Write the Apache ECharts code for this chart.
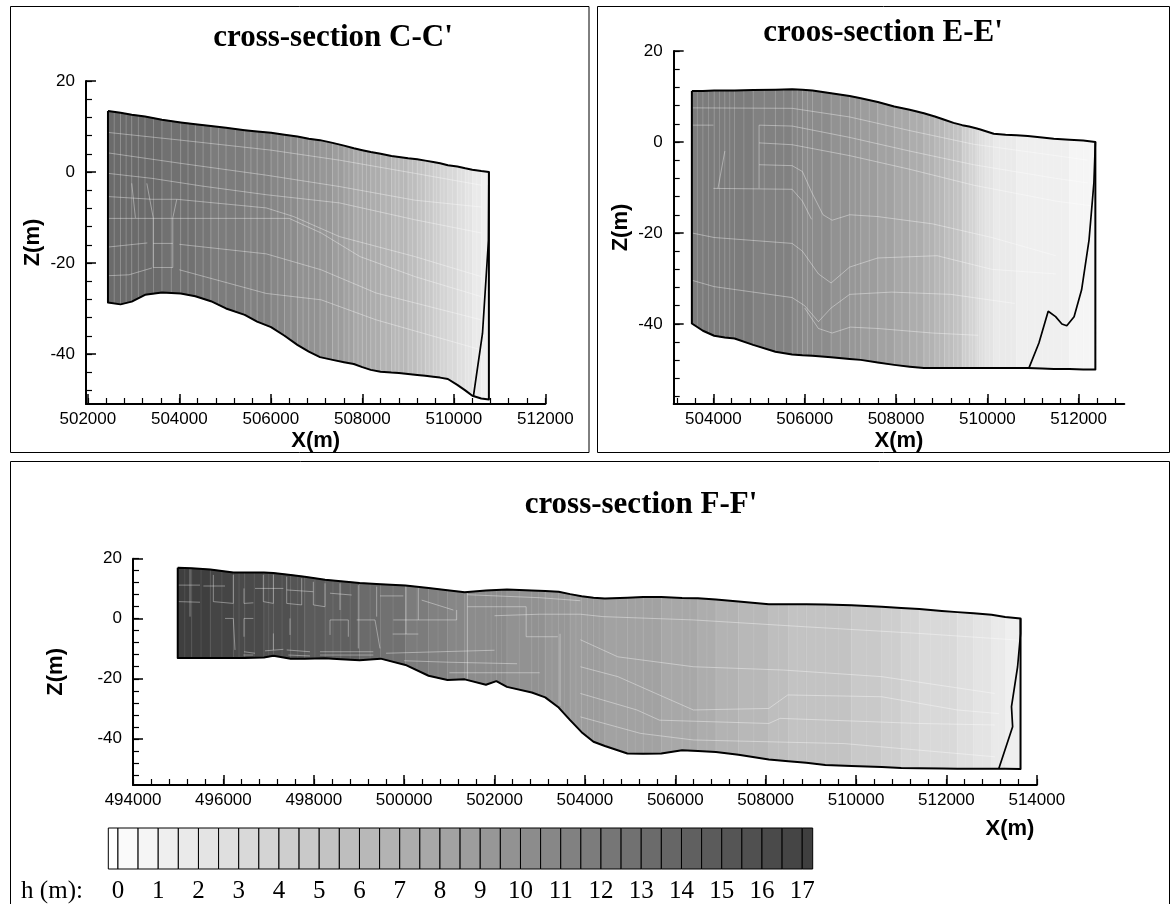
<!DOCTYPE html>
<html><head><meta charset="utf-8">
<script src="https://cdn.jsdelivr.net/npm/echarts@6/dist/echarts.min.js"></script>
<style>html,body{margin:0;padding:0;background:#fff}#c{width:1171px;height:904px}</style></head>
<body><div id="c"></div>
<script>
// Stations: X(m)
const xC=[502440,502715,502960,503250,503620,504030,504350,504690,505020,505430,505700,506005,506300,506580,506830,507075,507350,507600,507814,508000,508185,508400,508637,508800,509000,509200,509377,509550,509700,509870,510076,510250,510405,510600,510767];
const topC=[13.4,13,12.6,12.2,11.5,10.9,10.5,10.1,9.7,9.2,8.9,8.6,8.2,7.8,7.3,7,6.4,5.8,5.2,4.8,4.4,4,3.5,3.3,3,2.8,2.5,2.2,1.9,1.5,1.2,.8,.5,.2,0];
const botC=[-28.7,-29.1,-28.5,-27,-26.5,-26.7,-27.3,-28.4,-30,-31.4,-32.9,-34.1,-36,-38,-39.5,-40.7,-41.3,-41.8,-42.2,-42.9,-43.5,-43.9,-44.1,-44.2,-44.4,-44.6,-44.8,-45,-45.2,-45.5,-46.8,-48,-49.2,-49.8,-50];
const headC=[13,13,13,13,12.5,12.5,12,11.5,11.5,11,11,10.5,10,9.5,9.5,9,8.5,8,7.5,7.5,7,6.5,6,6,5.5,5,4.5,4,3.5,3,2.5,2,1.5,1,.5];
const wedgeC=[[510430,-49.2],[510627,-35.5],[510758,-15],[510767,0]];
const meshC=[
 [[502440,8.7],[504030,7],[506005,4.8],[507500,2.6],[509150,-.3],[510600,-2.9]],
 [[502440,4.2],[504030,1.9],[505900,-.7],[507500,-3.2],[509150,-6.2],[510600,-7.7]],
 [[502440,-.3],[503400,-1.4],[504500,-3.1],[505900,-5],[507500,-6.8],[509150,-10.5],[510600,-13.4]],
 [[502440,-5.4],[503400,-6],[503945,-6],[505900,-7.9],[506500,-9.8],[507500,-14.2],[509150,-18.6],[510600,-23]],
 [[502440,-10.2],[506400,-10.2],[507100,-13.4],[507950,-18.6],[509150,-23],[510600,-27.4]],
 [[502440,-16.5],[503300,-15.6]],
 [[504000,-15.9],[505900,-18],[507100,-21.5],[508300,-26.6],[510600,-32.5]],
 [[502440,-22.8],[502900,-22.6],[503400,-21.1]],
 [[504000,-21.5],[505900,-26.7],[507100,-28.1],[508300,-32.5],[510600,-39.1]],
 [[503430,-10.1],[503430,-15.7],[503857,-15.7],[503857,-10.1]],
 [[503430,-15.7],[503430,-21],[503857,-21],[503857,-15.7]],
 [[503290,-2.5],[503430,-10.1]],[[502960,-2.5],[503040,-10.1]],[[503945,-6],[503857,-10.1]]
];
const xE=[503528,503770,504016,504250,504463,504870,505358,505724,505950,506170,506577,506984,507228,507600,507960,508300,508610,508850,509060,509260,509450,509600,509750,509830,509950,510140,510400,510640,510886,511200,511455,511800,512100,512366];
const topE=[11.2,11.2,11.3,11.3,11.3,11.4,11.5,11.6,11.5,11.3,10.7,10.1,9.6,8.8,7.8,7.1,6.3,5.6,4.9,4.2,3.7,3.4,3,2.8,2.4,1.8,1.6,1.5,1.3,1,.7,.5,.3,0];
const botE=[-39.9,-41.5,-42.6,-43,-43.2,-44.6,-46.1,-46.7,-46.9,-47,-47.3,-47.7,-47.9,-48.5,-49,-49.4,-49.7,-49.7,-49.7,-49.7,-49.7,-49.7,-49.7,-49.7,-49.7,-49.7,-49.7,-49.7,-49.7,-49.8,-49.9,-49.9,-50,-50];
const headE=[11.5,11.5,11.5,11.5,11.5,11,11,10.5,10,10,9.5,9,8.5,8,7.5,7,6.5,6,5.5,5,4,3.5,3,2.5,2,1.5,1.5,1,1,1,1,.5,.5,.5];
const wedgeE=[[510910,-49.7],[511130,-44.2],[511333,-37.2],[511495,-38.4],[511633,-40],[511740,-40.4],[511900,-38.4],[512065,-32.5],[512228,-21.5],[512334,-9],[512366,0]];
const meshE=[
 [[503528,7.5],[505724,7.4],[506984,5.5],[508300,2.5],[509700,-.5],[511500,-3],[512200,-4]],
 [[503528,3.7],[504000,3.7]],
 [[505000,3.7],[505724,3.5],[506984,1],[508300,-2],[509700,-5],[511500,-8],[512200,-9]],
 [[505000,-.2],[505724,-.6],[506984,-3],[508300,-6],[509700,-9.5],[511500,-13],[512250,-14]],
 [[505000,-5],[505724,-5.2],[505950,-6.5],[506150,-11],[506400,-16],[506600,-17.2],[506984,-16],[507600,-16.4],[508800,-18],[510100,-21],[511500,-25]],
 [[504000,-10.2],[505724,-10.4],[505950,-13],[506150,-17]],
 [[503528,-20],[504016,-21],[505724,-22.3],[505950,-24],[506300,-29],[506577,-31],[506984,-27.5],[507600,-25.5],[508900,-25],[510100,-28],[511500,-29]],
 [[503528,-30.4],[504016,-31.8],[505724,-34.2],[506000,-36],[506300,-39.5],[506577,-36.5],[506984,-33.5],[507900,-33],[509200,-33.5],[510600,-35.5]],
 [[506000,-36.5],[506300,-41],[506600,-42],[507000,-40.7],[507600,-41],[508800,-42],[509800,-42.5]],
 [[505000,3.7],[505000,-10.2]],[[504100,-10.2],[504250,-2]]
];
const xF=[494990,495300,495711,496220,496473,496897,497108,497490,497800,498250,498600,499014,499480,500030,500540,500960,501340,501810,502040,502275,502825,503122,503420,503673,503927,504190,504442,504940,505290,505690,506150,506500,506900,507400,508070,508500,508900,509320,509900,510570,511000,511400,511900,512240,512600,513000,513300,513640];
const topF=[17,16.8,16.4,15.4,15.4,15.4,15.2,14.6,14,13,12.5,11.9,11.5,11.1,10.2,9.5,8.8,9.4,9.6,9.7,9.4,9.2,9,8.2,7.5,7,6.7,7,7.2,7.2,6.9,6.8,6.4,5.7,4.8,4.8,4.8,4.7,4.5,4,3.6,3.2,2.6,2.2,1.8,1.3,.6,.1];
const botF=[-13.1,-13.1,-13.1,-13.1,-13.1,-12.9,-12.3,-13.3,-13.3,-13.2,-13.5,-13.8,-13.3,-15.4,-19,-20.4,-20.2,-22,-20.8,-22.7,-24.6,-26.2,-29.6,-33.8,-37.8,-41,-42.4,-44.9,-45,-44.9,-43.8,-44.1,-44.4,-45.3,-46.9,-47.5,-48,-48.7,-49.1,-49.4,-49.7,-49.8,-49.9,-50,-50,-50,-50,-50.1];
const headF=[17,17,16.5,16,16,15.5,15.5,15,14.5,14,14,13,12.5,11.5,11,10.5,10,10,10,9.5,9.5,9,9,8.5,8.5,8.5,8,8,8,7.5,7.5,7,6.5,6,5.5,5,5,5,4.5,4,3.5,3,3,2.5,2,1.5,1,.5];
const wedgeF=[[513160,-49.9],[513465,-36],[513440,-29.3],[513575,-16],[513640,-5],[513640,.1]];
const meshF=[
 [[503900,1.5],[504400,.7],[506400,-.4],[508900,-2.7],[511400,-4.9],[513570,-7.1]],
 [[503900,-7],[504730,-12.7],[506400,-16],[508400,-17.1],[510570,-19.3],[513070,-24.9]],
 [[503900,-16],[504730,-19.3],[505570,-24.9],[506400,-30.4],[508070,-29.9],[508490,-25.4],[510570,-26],[512240,-30.4],[513160,-31.6]],
 [[503900,-24.9],[505150,-30.4],[505650,-33.8],[508070,-34.9],[508320,-33.2],[511400,-34.9],[513070,-35.4]],
 [[503900,-32.7],[505230,-38.2],[506400,-40.4],[509740,-41.6],[513070,-46]],
 [[495003,11.2],[495483,11.2]],[[495262,16.8],[495262,.7]],[[495003,5.7],[495483,5.5]],
 [[495778,14.6],[495778,5.7],[496220,5.1],[496220,14.6]],[[495557,10.9],[496036,10.9]],
 [[496036,.1],[496220,.1],[496257,-10.4]],[[496456,10.1],[496456,5.1],[496663,5.3]],
 [[496663,.1],[496456,.1],[496456,-6]],[[496884,14.6],[496884,5.7],[497106,5.1],[497106,14.6]],
 [[496700,10.1],[497327,10.1]],[[497106,-4.9],[497106,-10.4]],
 [[497401,14],[497401,5.1],[497733,4.6],[497733,13.5]],[[497474,.1],[497474,-5.4]],[[497401,9.6],[497991,9]],
 [[497991,12.3],[497991,4.6],[498249,4],[498249,11.8]],[[498360,-5.4],[498360,-.4],[498765,-.4],[498765,-6]],
 [[498581,11.8],[498581,2.9]],[[498360,8.5],[498839,7.9]],[[498986,11.2],[498986,-9.9]],
 [[498950,-.4],[499355,-.4],[499466,-9.9]],[[499392,10.7],[499392,.7]],[[499466,7.6],[499982,7.6]],
 [[499746,-5.1],[500314,-5.1]],[[500041,10.7],[500041,-5.1]],[[500314,10.7],[500314,-.4]],
 [[499761,-.4],[501162,-.4],[501162,2.9]],[[500388,6.2],[501089,2.9]],
 [[496456,-11],[496700,-11.5]],[[496442,-12.1],[496663,-12.1]],[[496921,-10.7],[497327,-10.2]],
 [[497401,-10.4],[497917,-11]],[[497438,-12.1],[497917,-12.4]],[[498138,-11],[499318,-11]],[[498138,-12.1],[499318,-12.1]],
 [[499600,-11.5],[500800,-11],[502000,-10.5]],[[500000,-14],[501000,-14.5],[502500,-15]],[[501000,-18],[503000,-18]],
 [[501400,4],[502700,4],[502700,-6],[503400,-6]],[[501400,8],[503000,7],[503900,6]],[[502000,1],[503000,1.5],[503900,1.5]],
 [[501400,8.8],[501400,-20]],[[503450,-5],[503450,-29]]
];
const levelGrays=[250,245,239,234,228,223,217,212,206,201,195,190,184,179,173,168,162,157,151,146,140,135,129,124,118,113,107,102,96,91,85,80,74,69,63];
const hEdges=[-0.24,0,0.5,1,1.5,2,2.5,3,3.5,4,4.5,5,5.5,6,6.5,7,7.5,8,8.5,9,9.5,10,10.5,11,11.5,12,12.5,13,13.5,14,14.5,15,15.5,16,16.5,17,17.26];
const hLabels=[0,1,2,3,4,5,6,7,8,9,10,11,12,13,14,15,16,17];
const xMajorC=[502000,504000,506000,508000,510000,512000], xMajorE=[504000,506000,508000,510000,512000];
const xMajorF=[494000,496000,498000,500000,502000,504000,506000,508000,510000,512000,514000];
const zMajor=[20,0,-20,-40];

const SANS='"Liberation Sans",Arial,sans-serif', SERIF='"Liberation Serif","Times New Roman",serif';
const grayHex=g=>'rgb('+g+','+g+','+g+')';
const seq=(a,b,s)=>{const r=[];for(let v=a;v<=b;v+=s)r.push(v);return r;};
const plain=v=>String(v);
const grids=[],xAxes=[],yAxes=[],series=[];
function panel(p){
  const g=grids.length;
  grids.push({left:p.l,top:p.t,width:p.r-p.l,height:p.b-p.t,containLabel:false});
  const xi=xAxes.length, yi=yAxes.length;
  const line={show:true,onZero:false,lineStyle:{color:'#000',width:2}};
  xAxes.push({type:'value',gridIndex:g,position:'bottom',min:p.x0,max:p.x1,splitLine:{show:false},axisLine:line,
    axisTick:{inside:true,length:10,customValues:p.xMajor,lineStyle:{color:'#000',width:1.5}},
    axisLabel:{margin:7,color:'#000',fontFamily:SANS,fontSize:17,customValues:p.xMajor,hideOverlap:false,formatter:plain},
    name:p.xName?'X(m)':'',nameLocation:'middle',nameGap:26,nameTextStyle:{fontFamily:SANS,fontSize:22,fontWeight:'bold',color:'#000'}});
  xAxes.push({type:'value',gridIndex:g,position:'bottom',min:p.x0,max:p.x1,splitLine:{show:false},axisLine:{show:false,onZero:false},
    axisLabel:{show:false},axisTick:{inside:true,length:6,customValues:seq(p.x0m,p.x1,400),lineStyle:{color:'#000',width:1.2}}});
  yAxes.push({type:'value',gridIndex:g,position:'left',min:p.z0,max:20,splitLine:{show:false},axisLine:line,
    axisTick:{inside:true,length:10,customValues:zMajor,lineStyle:{color:'#000',width:1.5}},
    axisLabel:{margin:11,color:'#000',fontFamily:SANS,fontSize:17,customValues:zMajor,hideOverlap:false,formatter:plain},
    name:'Z(m)',nameLocation:'middle',nameGap:p.zGap,nameRotate:90,nameTextStyle:{fontFamily:SANS,fontSize:22,fontWeight:'bold',color:'#000'}});
  yAxes.push({type:'value',gridIndex:g,position:'left',min:p.z0,max:20,splitLine:{show:false},axisLine:{show:false,onZero:false},
    axisLabel:{show:false},axisTick:{inside:true,length:6,customValues:seq(p.zm,20,4),lineStyle:{color:'#000',width:1.2}}});
  const bands=p.xs.slice(0,-1).map((x,i)=>[x,p.top[i],p.bot[i],p.head[i],p.xs[i+1],p.top[i+1],p.bot[i+1]]);
  series.push({type:'custom',xAxisIndex:xi,yAxisIndex:yi,clip:false,z:2,silent:true,data:bands,
    renderItem:(params,api)=>{
      const [x,t,b,h,nx,nt,nb]=[0,1,2,3,4,5,6].map(k=>api.value(k));
      const col=grayHex(levelGrays[Math.round(h*2)]);
      const vs='rgba(255,255,255,'+p.vAlpha+')';
      const v=(a,c)=>({type:'line',shape:{x1:a[0],y1:a[1],x2:c[0],y2:c[1]},style:{stroke:vs,lineWidth:0.9},z2:5});
      const mx=(x+nx)/2;
      return {type:'group',children:[
        {type:'polygon',shape:{points:[api.coord([x,t]),api.coord([nx,nt]),api.coord([nx,nb]),api.coord([x,b])]},style:{fill:col,stroke:col,lineWidth:0.6}},
        v(api.coord([x,t]),api.coord([x,b])),
        v(api.coord([mx,(t+nt)/2]),api.coord([mx,(b+nb)/2]))
      ]};
    },encode:{x:0,y:1}});
  const meshData=[];
  p.mesh.forEach(seg=>{seg.forEach(pt=>meshData.push(pt));meshData.push(['-','-']);});
  series.push({type:'line',xAxisIndex:xi,yAxisIndex:yi,z:3,silent:true,showSymbol:false,symbol:'none',connectNulls:false,
    lineStyle:{color:'rgba(255,255,255,0.42)',width:0.9},data:meshData});
  const outline=[];
  p.xs.forEach((x,i)=>outline.push([x,p.top[i]]));
  for(let i=p.xs.length-1;i>=0;i--)outline.push([p.xs[i],p.bot[i]]);
  outline.push([p.xs[0],p.top[0]]);
  series.push({type:'line',xAxisIndex:xi,yAxisIndex:yi,z:4,clip:false,silent:true,showSymbol:false,symbol:'none',
    lineStyle:{color:'#000',width:2,join:'round'},data:outline});
  series.push({type:'line',xAxisIndex:xi,yAxisIndex:yi,z:4,clip:false,silent:true,showSymbol:false,symbol:'none',
    lineStyle:{color:'#000',width:1.7},data:p.wedge});
}
panel({l:86,r:545.3,t:81,b:404,x0:501960,x1:512000,x0m:502000,z0:-51,zm:-48,zGap:42,xMajor:xMajorC,xName:true,xs:xC,top:topC,bot:botC,head:headC,wedge:wedgeC,mesh:meshC,vAlpha:0.24});
panel({l:673.7,r:1124.3,t:51,b:404,x0:503130,x1:513000,x0m:503200,z0:-57.6,zm:-56,zGap:42,xMajor:xMajorE,xName:true,xs:xE,top:topE,bot:botE,head:headE,wedge:wedgeE,mesh:meshE,vAlpha:0.2});
panel({l:133,r:1036.8,t:558.7,b:785,x0:494000,x1:514000,x0m:494000,z0:-55.4,zm:-52,zGap:66,xMajor:xMajorF,xName:false,xs:xF,top:topF,bot:botF,head:headF,wedge:wedgeF,mesh:meshF,vAlpha:0.1});

// colour bar
grids.push({left:108.3,top:828,width:704.4,height:41,containLabel:false});
const barX=xAxes.length, barY=yAxes.length;
xAxes.push({type:'value',gridIndex:3,position:'bottom',min:-0.24,max:17.26,splitLine:{show:false},axisLine:{show:false,onZero:false},axisTick:{show:false},
  axisLabel:{margin:10,color:'#000',fontFamily:SERIF,fontSize:25,customValues:hLabels,hideOverlap:false,formatter:plain}});
yAxes.push({type:'value',gridIndex:3,min:0,max:1,show:false});
const cells=hEdges.slice(0,-1).map((h,i)=>[h,hEdges[i+1],i===0?255:levelGrays[i-1]]);
series.push({type:'custom',xAxisIndex:barX,yAxisIndex:barY,clip:false,z:2,silent:true,data:cells,encode:{x:0},
  renderItem:(params,api)=>{
    const a=api.coord([api.value(0),1]), b=api.coord([api.value(1),0]);
    return {type:'rect',shape:{x:a[0],y:a[1],width:b[0]-a[0],height:b[1]-a[1]},style:{fill:grayHex(api.value(2)),stroke:'#000',lineWidth:1}};
  }});

const frame=(x,y,w,h)=>({type:'rect',shape:{x,y,width:w,height:h},style:{fill:'none',stroke:'#000',lineWidth:1},z:0,silent:true});
const label=(x,y,text,font,size,weight)=>({type:'text',x,y,z:10,silent:true,style:{text,fill:'#000',font:(weight?weight+' ':'')+size+'px '+font,textAlign:'center',textVerticalAlign:'middle'}});
const graphic=[
 frame(10.5,6.5,578.5,446),frame(597.5,6.5,572,446),frame(10.5,461.5,1159,460),
 label(333,38,"cross-section C-C'",SERIF,31,'bold'),
 label(883,33,"croos-section E-E'",SERIF,31,'bold'),
 label(641,505,"cross-section F-F'",SERIF,31,'bold'),
 label(1010,829,'X(m)',SANS,22,'bold'),
 label(52,891,'h (m):',SERIF,25)
];
echarts.init(document.getElementById('c'),null,{renderer:'canvas'}).setOption({
  animation:false,backgroundColor:'#fff',grid:grids,xAxis:xAxes,yAxis:yAxes,series,graphic,tooltip:{show:false},legend:{show:false}
});
</script></body></html>
